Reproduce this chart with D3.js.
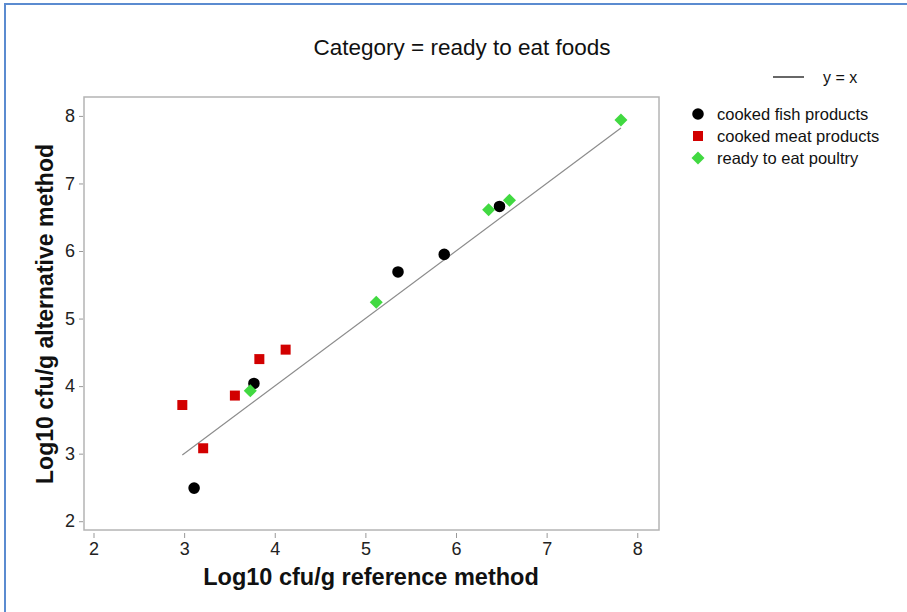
<!DOCTYPE html>
<html>
<head>
<meta charset="utf-8">
<script src="https://cdn.jsdelivr.net/npm/d3@7"></script>
<style>
  html, body { margin: 0; padding: 0; background: #fff; }
  svg { display: block; font-family: "Liberation Sans", Arial, sans-serif; }
  .tick text { fill: #222; }
</style>
</head>
<body>
<svg id="chart" width="907" height="612"></svg>
<script>
// data (log10 cfu/g)
const fishRef = [3.11, 3.77, 5.36, 5.87, 6.48];
const fishAlt = [2.49, 4.04, 5.69, 5.95, 6.66];
const meatRef = [2.98, 3.21, 3.56, 3.83, 4.12];
const meatAlt = [3.72, 3.08, 3.86, 4.40, 4.54];
const poultryRef = [3.73, 5.12, 6.36, 6.59, 7.82];
const poultryAlt = [3.93, 5.24, 6.61, 6.75, 7.94];
const tickValues = [2, 3, 4, 5, 6, 7, 8];
const lineExtent = [2.98, 7.82];

const series = [
  { name: 'cooked fish products', xs: fishRef, ys: fishAlt, color: '#000000', symbol: d3.symbolCircle, size: 105, rot: 0 },
  { name: 'cooked meat products', xs: meatRef, ys: meatAlt, color: '#d20000', symbol: d3.symbolSquare, size: 100, rot: 0 },
  { name: 'ready to eat poultry', xs: poultryRef, ys: poultryAlt, color: '#41d941', symbol: d3.symbolSquare, size: 85, rot: 45 }
];

const svg = d3.select('#chart');

// window border (blue, top + left only)
svg.append('line').attr('x1', 4).attr('x2', 907).attr('y1', 4).attr('y2', 4)
  .attr('stroke', '#5b8bd0').attr('stroke-width', 2);
svg.append('line').attr('x1', 5).attr('x2', 5).attr('y1', 4).attr('y2', 612)
  .attr('stroke', '#5b8bd0').attr('stroke-width', 2);

const frame = { left: 84, top: 97, right: 659, bottom: 530 };

const x = d3.scaleLinear().domain([1.895, 8.24]).range([frame.left, frame.right]);
const y = d3.scaleLinear().domain([1.87, 8.28]).range([frame.bottom, frame.top]);

svg.append('rect')
  .attr('x', frame.left).attr('y', frame.top)
  .attr('width', frame.right - frame.left).attr('height', frame.bottom - frame.top)
  .attr('fill', 'none').attr('stroke', '#b4b4b4').attr('stroke-width', 1.5);

const xAxis = svg.append('g').attr('transform', `translate(0,${frame.bottom + 3})`)
  .call(d3.axisBottom(x).tickValues(tickValues).tickSize(5).tickPadding(4).tickFormat(d3.format('d')));
const yAxis = svg.append('g').attr('transform', `translate(${frame.left - 1},0)`)
  .call(d3.axisLeft(y).tickValues(tickValues).tickSize(4).tickPadding(4).tickFormat(d3.format('d')));

[xAxis, yAxis].forEach(a => {
  a.select('.domain').remove();
  a.selectAll('.tick line').attr('stroke', '#999');
  a.selectAll('.tick text').attr('font-size', '18px').attr('font-family', 'Liberation Sans, Arial, sans-serif');
});

// y = x reference line
svg.append('line')
  .attr('x1', x(lineExtent[0])).attr('y1', y(lineExtent[0]))
  .attr('x2', x(lineExtent[1])).attr('y2', y(lineExtent[1]))
  .attr('stroke', '#8c8c8c').attr('stroke-width', 1.2);

series.forEach(s => {
  const path = d3.symbol().type(s.symbol).size(s.size)();
  svg.append('g').selectAll('path').data(s.xs.map((v, i) => [v, s.ys[i]])).join('path')
    .attr('d', path)
    .attr('transform', d => `translate(${x(d[0])},${y(d[1])}) rotate(${s.rot})`)
    .attr('fill', s.color);
});

// titles
svg.append('text').attr('x', 462).attr('y', 55).attr('text-anchor', 'middle')
  .attr('font-size', '22.5px').attr('fill', '#111').text('Category = ready to eat foods');

svg.append('text').attr('x', 371).attr('y', 585).attr('text-anchor', 'middle')
  .attr('font-size', '23.5px').attr('font-weight', 'bold').attr('fill', '#111')
  .text('Log10 cfu/g reference method');

svg.append('text').attr('transform', 'translate(53,314) rotate(-90)').attr('text-anchor', 'middle')
  .attr('font-size', '23px').attr('font-weight', 'bold').attr('fill', '#111')
  .text('Log10 cfu/g alternative method');

// legend
const lg = svg.append('g');
lg.append('line').attr('x1', 773).attr('x2', 804).attr('y1', 77).attr('y2', 77)
  .attr('stroke', '#000').attr('stroke-width', 1.2);
lg.append('text').attr('x', 823).attr('y', 82.5).attr('font-size', '16px').attr('fill', '#111').text('y = x');

series.forEach((s, i) => {
  const cy = 114 + i * 22;
  lg.append('path').attr('d', d3.symbol().type(s.symbol).size(s.size)())
    .attr('transform', `translate(698,${cy}) rotate(${s.rot})`).attr('fill', s.color);
  lg.append('text').attr('x', 717).attr('y', cy + 6).attr('font-size', '16.5px').attr('fill', '#111').text(s.name);
});
</script>
</body>
</html>
